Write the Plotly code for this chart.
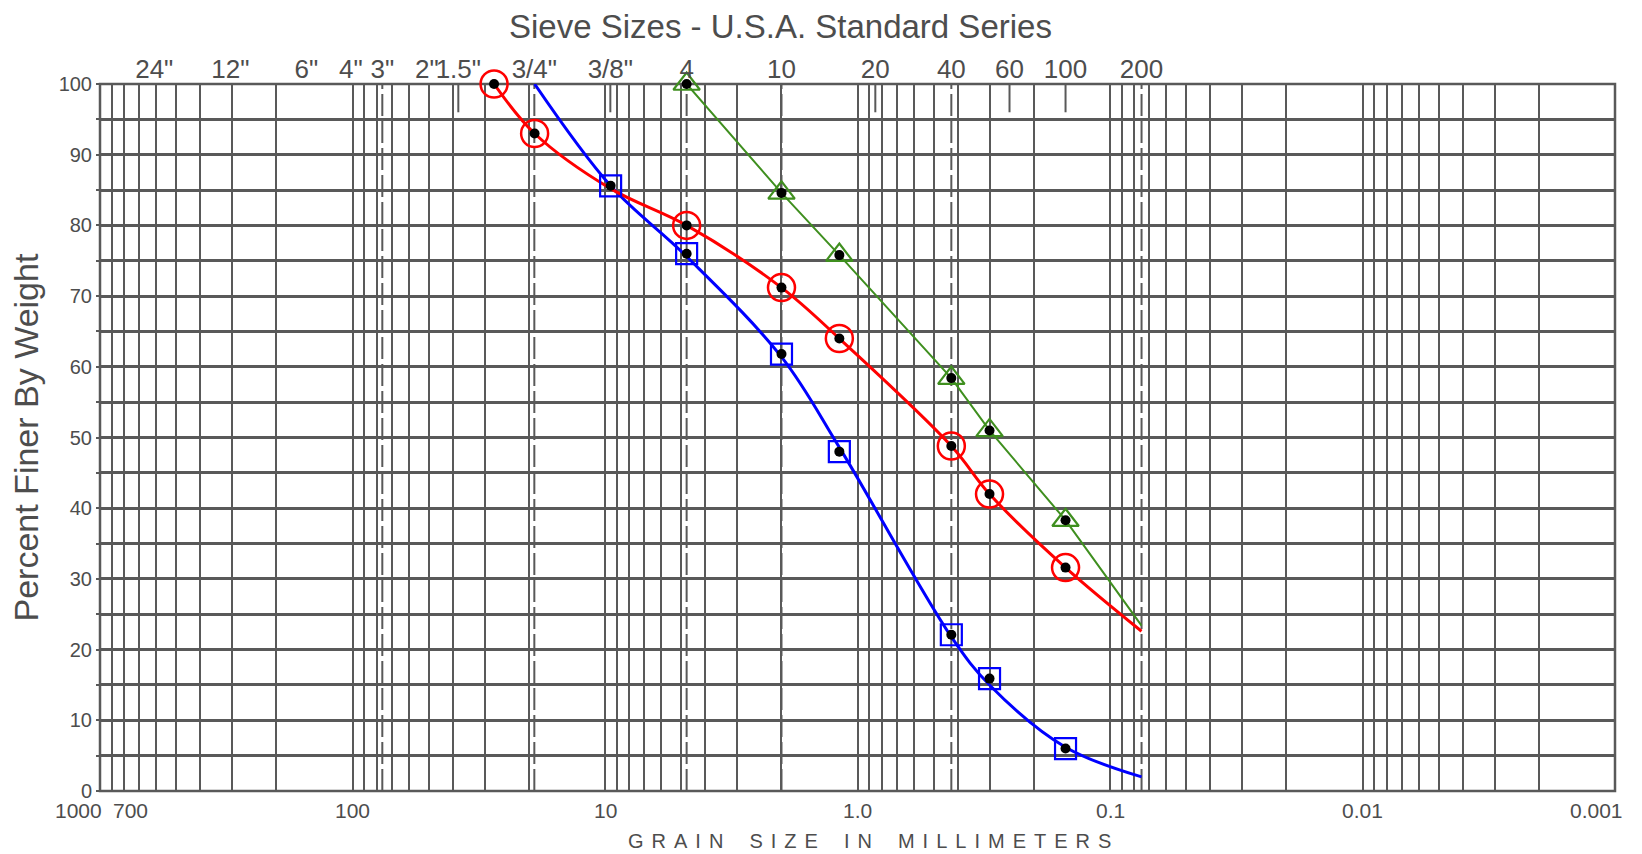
import numpy as np
import plotly.graph_objects as go

# ---------------- data ----------------
# Red sample (open circles)
red_size = [27.5, 19.0, 4.75, 2.0, 1.18, 0.425, 0.30, 0.15]
red_pct = [100.0, 93.0, 80.0, 71.2, 64.0, 48.8, 42.0, 31.6]
red_curve_size = [27.5, 19.0, 9.5, 4.75, 2.0, 1.18, 0.425, 0.30, 0.15, 0.075]
red_curve_pct = [100.0, 93.0, 85.2, 80.0, 71.2, 64.0, 48.8, 42.0, 31.6, 22.6]

# Blue sample (open squares)
blue_size = [9.5, 4.75, 2.0, 1.18, 0.425, 0.30, 0.15]
blue_pct = [85.6, 76.0, 61.8, 48.0, 22.1, 15.9, 6.0]
blue_curve_size = [19.0, 9.5, 4.75, 2.0, 1.18, 0.425, 0.30, 0.15, 0.075]
blue_curve_pct = [100.0, 85.6, 75.6, 61.4, 48.6, 21.8, 15.0, 6.2, 2.0]

# Green sample (open triangles)
green_size = [4.75, 2.0, 1.18, 0.425, 0.30, 0.15]
green_pct = [100.0, 84.6, 75.8, 58.4, 51.0, 38.3]
green_line_size = [4.75, 2.0, 1.18, 0.425, 0.30, 0.15, 0.075]
green_line_pct = [100.0, 84.6, 75.8, 58.4, 51.0, 38.3, 23.4]

# Top axis: U.S.A. standard sieve sizes (mm) and labels
sieve_mm = [609.6, 304.8, 152.4, 101.6, 76.2, 50.8, 38.1, 19.05, 9.525,
            4.75, 2.0, 0.85, 0.425, 0.25, 0.15, 0.075]
sieve_text = ['24"', '12"', '6"', '4"', '3"', '2"', '1.5"', '3/4"', '3/8"',
              '4', '10', '20', '40', '60', '100', '200']
# sieves drawn as broken (dashed) full-height lines
dashed_sieves = [76.2, 19.05, 4.75, 2.0, 0.425, 0.075]
# sieves marked by short ticks at top
short_tick_sieves = [38.1, 9.525, 0.85, 0.25, 0.15]

# Bottom axis labels (grain size, mm)
bottom_vals = [1000, 700, 100, 10, 1, 0.1, 0.01, 0.001]
bottom_text = ['1000', '700', '100', '10', '1.0', '0.1', '0.01', '0.001']

# y ticks
y_grid = list(range(0, 101, 5))
y_labels = [str(v) if v % 10 == 0 else '' for v in y_grid]

# log grid values 1..9 x 10^k
grid_vals = []
for k in range(-3, 3):
    for d in range(1, 10):
        grid_vals.append(d * 10.0 ** k)
grid_vals.append(1000.0)

GRID = '#595959'
TXT = '#4d4d4d'
FONT = 'Liberation Sans, Arial, sans-serif'

fig = go.Figure()

# curves
fig.add_trace(go.Scatter(x=blue_curve_size, y=blue_curve_pct, mode='lines',
                         line=dict(color='#0000ff', width=3, shape='spline', smoothing=1.0),
                         hoverinfo='skip', showlegend=False, cliponaxis=False))
fig.add_trace(go.Scatter(x=red_curve_size, y=red_curve_pct, mode='lines',
                         line=dict(color='#ff0000', width=3, shape='spline', smoothing=1.0),
                         hoverinfo='skip', showlegend=False, cliponaxis=False))
fig.add_trace(go.Scatter(x=green_line_size, y=green_line_pct, mode='lines',
                         line=dict(color='#3f8f1f', width=2),
                         hoverinfo='skip', showlegend=False, cliponaxis=False))

# markers
fig.add_trace(go.Scatter(x=red_size, y=red_pct, mode='markers', cliponaxis=False,
                         marker=dict(symbol='circle-open', size=27, color='#ff0000',
                                     line=dict(width=2.5, color='#ff0000')),
                         showlegend=False))
fig.add_trace(go.Scatter(x=blue_size, y=blue_pct, mode='markers', cliponaxis=False,
                         marker=dict(symbol='square-open', size=21, color='#0000ff',
                                     line=dict(width=2.2, color='#0000ff')),
                         showlegend=False))
fig.add_trace(go.Scatter(x=green_size, y=green_pct, mode='markers', cliponaxis=False,
                         marker=dict(symbol='triangle-up-open', size=23, color='#3f8f1f',
                                     line=dict(width=2.2, color='#3f8f1f')),
                         showlegend=False))
# black dots
for xs, ys in [(red_size, red_pct), (blue_size, blue_pct), (green_size, green_pct)]:
    fig.add_trace(go.Scatter(x=xs, y=ys, mode='markers', cliponaxis=False,
                             marker=dict(symbol='circle', size=10, color='black'),
                             showlegend=False))

# x2 dummy trace to activate top axis
fig.add_trace(go.Scatter(x=[sieve_mm[0]], y=[50], xaxis='x2', mode='markers',
                         marker=dict(opacity=0), hoverinfo='skip', showlegend=False))

shapes = []
for v in dashed_sieves:
    shapes.append(dict(type='line', xref='x', yref='y', x0=v, x1=v, y0=0, y1=100,
                       line=dict(color=GRID, width=2, dash='22px,5px'), layer='below'))
for v in short_tick_sieves:
    shapes.append(dict(type='line', xref='x', yref='y', x0=v, x1=v, y0=96, y1=100,
                       line=dict(color=GRID, width=2), layer='below'))
# frame
shapes.append(dict(type='rect', xref='paper', yref='paper', x0=0, x1=1, y0=0, y1=1,
                   line=dict(color=GRID, width=2.5), layer='below'))

annotations = []
for v, t in zip(bottom_vals, bottom_text):
    shift = 0
    anchor = 'center'
    if v == 1000:
        anchor, shift = 'right', 4
    elif v == 700:
        shift = -9
    elif v == 0.001:
        anchor, shift = 'right', 10
    annotations.append(dict(x=np.log10(v), y=0, xref='x', yref='y', text=t, showarrow=False,
                            xanchor=anchor, yanchor='middle', xshift=shift, yshift=-19,
                            font=dict(family=FONT, size=21, color=TXT)))
annotations.append(dict(x=0.449, y=1, xref='paper', yref='paper', yanchor='middle', yshift=58,
                        text='Sieve Sizes - U.S.A. Standard Series', showarrow=False,
                        font=dict(family=FONT, size=33, color=TXT)))

# spaced-out x-axis title
sp = '\u2009\u2009'
word_gap = '\u2009\u2009\u2002\u2009\u2009'
x_title = word_gap.join(sp.join(list(w)) for w in ['GRAIN', 'SIZE', 'IN', 'MILLIMETERS'])
annotations.append(dict(x=0.508, y=0, xref='paper', yref='paper', yanchor='middle', yshift=-50,
                        text=x_title, showarrow=False,
                        font=dict(family=FONT, size=20, color=TXT)))
annotations.append(dict(x=0, y=0.5, xref='paper', yref='paper', xanchor='center',
                        yanchor='middle', xshift=-75, textangle=-90,
                        text='Percent Finer By Weight', showarrow=False,
                        font=dict(family=FONT, size=34, color=TXT)))

fig.update_layout(
    width=1634, height=846,
    margin=dict(l=92, r=27, t=76, b=63, autoexpand=False),
    paper_bgcolor='white', plot_bgcolor='white',
    shapes=shapes, annotations=annotations,
    xaxis=dict(type='log', range=[3, -3], tickvals=grid_vals,
               ticktext=['' for _ in grid_vals], showgrid=True, gridcolor=GRID, gridwidth=2,
               zeroline=False, showline=False, ticks='', automargin=False),
    xaxis2=dict(type='log', range=[3, -3], overlaying='x', side='top', tickvals=sieve_mm,
                ticktext=sieve_text, showgrid=False, ticks='', zeroline=False,
                tickangle=0, automargin=False,
                tickfont=dict(family=FONT, size=26, color=TXT)),
    yaxis=dict(range=[0, 100], tickvals=y_grid, ticktext=y_labels, showgrid=True,
               gridcolor=GRID, gridwidth=2.5, zeroline=False, showline=False,
               ticks='outside', ticklen=3, tickcolor=GRID, tickwidth=2, automargin=False,
               tickfont=dict(family=FONT, size=20, color=TXT)),
    font=dict(family=FONT, color=TXT),
)

fig.write_html('out.html')
